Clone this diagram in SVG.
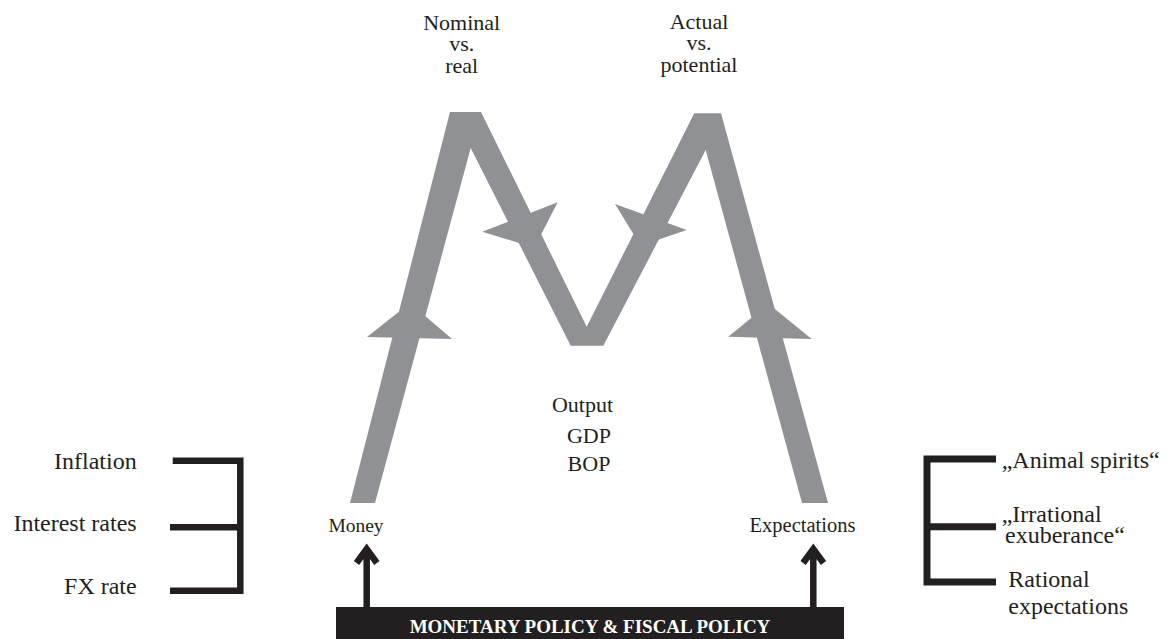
<svg xmlns="http://www.w3.org/2000/svg" width="1168" height="639" viewBox="0 0 1168 639">
<style>
.t{font-family:"Liberation Serif","Times New Roman",serif;fill:#231f20;font-size:22px}
.s{font-size:24px}
.m{font-size:19.5px}
.e{font-size:20.5px}
.c{text-anchor:middle}
.r{text-anchor:end}
.g{fill:#8f9195}
.k{fill:none;stroke:#231f20;stroke-linejoin:miter;stroke-miterlimit:10}
.box{fill:#231f20}
.bt{font-family:"Liberation Serif","Times New Roman",serif;font-weight:bold;font-size:19px;fill:#ffffff;text-anchor:middle}
</style>
<rect width="1168" height="639" fill="#ffffff"/>
<g id="connectors">
  <polygon class="g" points="350,503 450,112 481,112 586.7,326.7 694.3,113.3 721,113.3 828,503 802,503 705.7,150 603.3,345.7 570.7,345.7 470.7,148 375,503"/>
  <polygon class="g" points="410,303 452,339 367,337"/>
  <polygon class="g" points="482.3,231.7 557.7,202.3 534.3,247.7"/>
  <polygon class="g" points="615,204 686.7,230 640.6,245.7"/>
  <polygon class="g" points="768.4,303.8 811.7,339 728.3,336.7"/>
  <path class="k" stroke-width="6.5" d="M172.7 460.7 H240.3 V590.7 H170 M170 527.3 H240.3"/>
  <path class="k" stroke-width="7" d="M996 459 H927 V582 H996 M927 526.7 H996"/>
  <path class="k" stroke-width="6.5" d="M366.7 607 V550 M356.5 563 L366.7 549 L376.9 563"/>
  <path class="k" stroke-width="6.5" d="M813.3 607 V550 M803.1 563 L813.3 549 L823.5 563"/>
</g>
<g id="nominal-real">
  <text class="t c" x="461.7" y="30">Nominal</text>
  <text class="t c" x="461.7" y="51">vs.</text>
  <text class="t c" x="461.7" y="72.7">real</text>
</g>
<g id="actual-potential">
  <text class="t c" x="699" y="28.5">Actual</text>
  <text class="t c" x="699" y="50">vs.</text>
  <text class="t c" x="699" y="71.7">potential</text>
</g>
<g id="output">
  <text class="t c" x="582.5" y="411.7">Output</text>
  <text class="t c" x="589" y="443.3">GDP</text>
  <text class="t c" x="589" y="470.5">BOP</text>
</g>
<g id="money">
  <text class="t m c" x="356" y="531.7">Money</text>
</g>
<g id="expectations">
  <text class="t e c" x="802.5" y="531.7">Expectations</text>
</g>
<g id="monetary-factors">
  <text class="t s r" x="136.7" y="469.3">Inflation</text>
  <text class="t s r" x="136.7" y="530.7">Interest rates</text>
  <text class="t s r" x="136.7" y="594">FX rate</text>
</g>
<g id="expectation-types">
  <text class="t s" x="1001.7" y="468.3">„Animal spirits“</text>
  <text class="t s" x="1001.7" y="521.7">„Irrational</text>
  <text class="t s" x="1005" y="543.3">exuberance“</text>
  <text class="t s" x="1008.3" y="586.7">Rational</text>
  <text class="t s" x="1008.3" y="614">expectations</text>
</g>
<g id="policy">
  <rect class="box" x="336" y="607" width="508" height="32"/>
  <text class="bt" x="590" y="633.3">MONETARY POLICY &amp; FISCAL POLICY</text>
</g>
</svg>
